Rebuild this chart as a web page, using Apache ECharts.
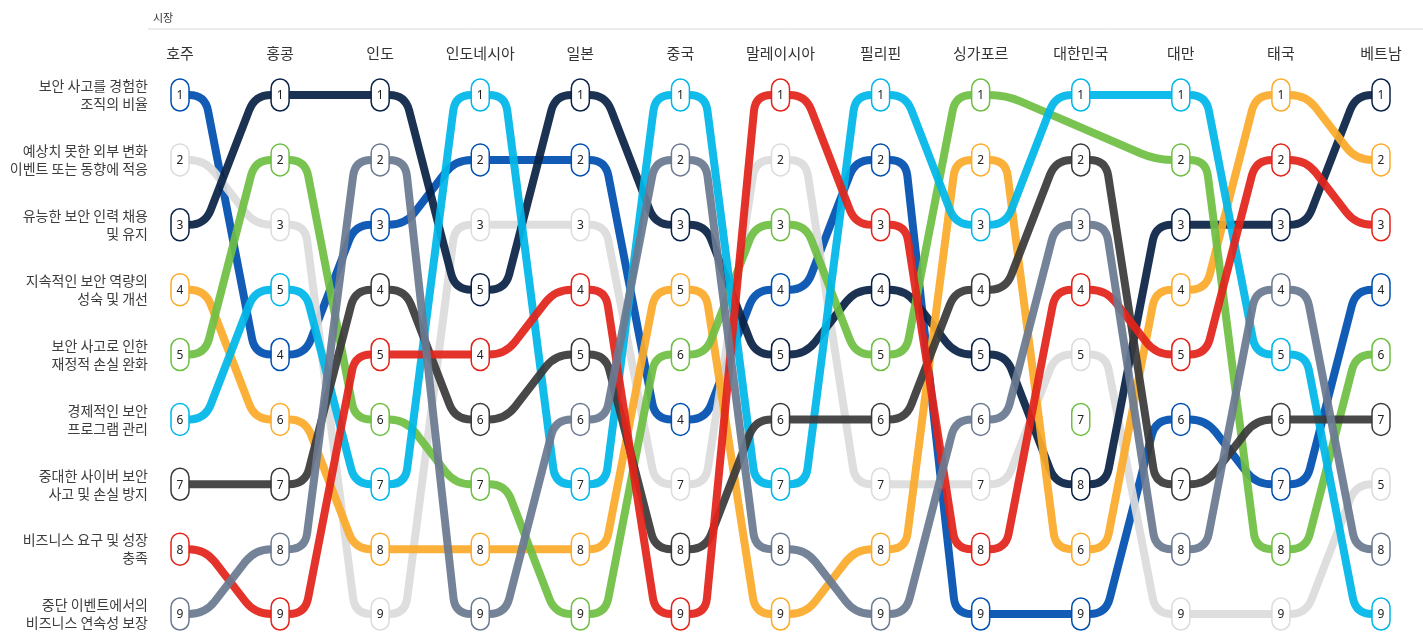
<!DOCTYPE html>
<html>
<head>
<meta charset="utf-8">
<script src="https://cdn.jsdelivr.net/npm/echarts@6/dist/echarts.min.js"></script>
<style>
  html, body { margin: 0; padding: 0; background: #fff; }
  #chart { width: 1423px; height: 636px; }
</style>
</head>
<body>
<div id="chart"></div>
<script>
// Markets along the top
const markets = ['호주', '홍콩', '인도', '인도네시아', '일본', '중국', '말레이시아', '필리핀', '싱가포르', '대한민국', '대만', '태국', '베트남'];

// Row labels (one per priority, shown at rows 1..9)
const rowLabels = [
  '보안 사고를 경험한\n조직의 비율',
  '예상치 못한 외부 변화\n이벤트 또는 동향에 적응',
  '유능한 보안 인력 채용\n및 유지',
  '지속적인 보안 역량의\n성숙 및 개선',
  '보안 사고로 인한\n재정적 손실 완화',
  '경제적인 보안\n프로그램 관리',
  '중대한 사이버 보안\n사고 및 손실 방지',
  '비즈니스 요구 및 성장\n충족',
  '중단 이벤트에서의\n비즈니스 연속성 보장'
];

// Row position of each priority in each market (1 = top)
const posIncidents   = [1, 5, 3, 2, 2, 6, 4, 2, 9, 9, 6, 7, 4];
const posAdapt       = [2, 3, 9, 3, 3, 7, 2, 7, 7, 5, 9, 9, 7];
const posTalent      = [3, 1, 1, 4, 1, 3, 5, 4, 5, 7, 3, 3, 1];
const posMaturity    = [4, 6, 8, 8, 8, 4, 9, 8, 2, 8, 4, 1, 2];
const posFinancial   = [5, 2, 6, 7, 9, 5, 3, 5, 1, 6, 2, 8, 5];
const posCostEff     = [6, 4, 7, 1, 7, 1, 7, 1, 3, 1, 1, 5, 9];
const posPrevent     = [7, 7, 4, 6, 5, 8, 6, 6, 4, 2, 7, 6, 6];
const posGrowth      = [8, 9, 5, 5, 4, 9, 1, 3, 8, 4, 5, 2, 3];
const posContinuity  = [9, 8, 2, 9, 6, 2, 8, 9, 6, 3, 8, 4, 8];

// Rank shown inside each node
const rankIncidents  = [1, 4, 3, 2, 2, 4, 4, 2, 9, 9, 6, 7, 4];
const rankAdapt      = [2, 3, 9, 3, 3, 7, 2, 7, 7, 5, 9, 9, 5];
const rankTalent     = [3, 1, 1, 5, 1, 3, 5, 4, 5, 8, 3, 3, 1];
const rankMaturity   = [4, 6, 8, 8, 8, 5, 9, 8, 2, 6, 4, 1, 2];
const rankFinancial  = [5, 2, 6, 7, 9, 6, 3, 5, 1, 7, 2, 8, 6];
const rankCostEff    = [6, 5, 7, 1, 7, 1, 7, 1, 3, 1, 1, 5, 9];
const rankPrevent    = [7, 7, 4, 6, 5, 8, 6, 6, 4, 2, 7, 6, 7];
const rankGrowth     = [8, 9, 5, 4, 4, 9, 1, 3, 8, 4, 5, 2, 3];
const rankContinuity = [9, 8, 2, 9, 6, 2, 8, 9, 6, 3, 8, 4, 8];

// Nodes that are drawn without a connecting line: [priority index, market index]
const unlinkedNodes = [[4, 9]];

const seriesColors = ['#0050b0', '#dcdcdc', '#0a2246', '#fbab2a', '#6fbe44', '#00b7e8', '#3a3a3a', '#e2231a', '#6b7a91'];

const positions = [posIncidents, posAdapt, posTalent, posMaturity, posFinancial, posCostEff, posPrevent, posGrowth, posContinuity];
const ranks = [rankIncidents, rankAdapt, rankTalent, rankMaturity, rankFinancial, rankCostEff, rankPrevent, rankGrowth, rankContinuity];

const chart = echarts.init(document.getElementById('chart'), null, { renderer: 'canvas' });

const STEP_OUT = 25;   // horizontal run leaving / entering a node
const CORNER = 16;     // corner rounding

function isUnlinked(s, m) {
  return unlinkedNodes.some(u => u[0] === s && u[1] === m);
}

// Build line segments for one priority from its position array
function segmentsFor(s) {
  const p = positions[s];
  const cols = [];
  for (let m = 0; m < markets.length; m++) if (!isUnlinked(s, m)) cols.push(m);
  const out = [];
  for (let i = 0; i < cols.length - 1; i++) {
    out.push([cols[i], p[cols[i]], cols[i + 1], p[cols[i + 1]]]);
  }
  return out;
}

function roundedStepPath(a, d) {
  if (Math.abs(a[1] - d[1]) < 0.5) {
    return 'M' + a[0] + ' ' + a[1] + 'L' + d[0] + ' ' + d[1];
  }
  const b = [a[0] + STEP_OUT, a[1]];
  const c = [d[0] - STEP_OUT, d[1]];
  const len = Math.hypot(c[0] - b[0], c[1] - b[1]);
  const ux = (c[0] - b[0]) / len, uy = (c[1] - b[1]) / len;
  const r = Math.min(CORNER, len / 2, STEP_OUT);
  const b1 = [b[0] - r, b[1]];
  const b2 = [b[0] + ux * r, b[1] + uy * r];
  const c1 = [c[0] - ux * r, c[1] - uy * r];
  const c2 = [c[0] + r, c[1]];
  return 'M' + a[0] + ' ' + a[1] +
    'L' + b1[0] + ' ' + b1[1] +
    'Q' + b[0] + ' ' + b[1] + ' ' + b2[0] + ' ' + b2[1] +
    'L' + c1[0] + ' ' + c1[1] +
    'Q' + c[0] + ' ' + c[1] + ' ' + c2[0] + ' ' + c2[1] +
    'L' + d[0] + ' ' + d[1];
}

const lineSeries = positions.map((p, s) => ({
  type: 'custom',
  name: rowLabels[s],
  coordinateSystem: 'cartesian2d',
  encode: { x: [0, 2], y: [1, 3] },
  data: segmentsFor(s),
  z: 2,
  silent: true,
  clip: false,
  renderItem: function (params, api) {
    const a = api.coord([api.value(0), api.value(1)]);
    const d = api.coord([api.value(2), api.value(3)]);
    return {
      type: 'path',
      shape: { pathData: roundedStepPath(a, d) },
      style: {
        fill: 'none',
        stroke: seriesColors[s],
        lineWidth: 8,
        opacity: 0.93,
        lineJoin: 'round'
      }
    };
  }
}));

// Nodes: [market index, row position, rank, priority index]
const nodeData = [];
positions.forEach((p, s) => {
  p.forEach((v, m) => nodeData.push([m, v, ranks[s][m], s]));
});

const nodeSeries = {
  type: 'custom',
  coordinateSystem: 'cartesian2d',
  encode: { x: 0, y: 1 },
  data: nodeData,
  z: 10,
  silent: true,
  clip: false,
  renderItem: function (params, api) {
    const c = api.coord([api.value(0), api.value(1)]);
    const s = api.value(3);
    return {
      type: 'group',
      x: c[0],
      y: c[1],
      children: [
        {
          type: 'rect',
          shape: { x: -9, y: -16, width: 18, height: 32, r: 9 },
          style: { fill: '#ffffff', stroke: seriesColors[s], lineWidth: 1.5 }
        },
        {
          type: 'text',
          style: {
            text: String(api.value(2)),
            x: 0, y: 1,
            align: 'center',
            verticalAlign: 'middle',
            fill: '#222',
            font: '12px "Noto Sans", "Noto Sans CJK KR", sans-serif'
          }
        }
      ]
    };
  }
};

chart.setOption({
  animation: false,
  backgroundColor: '#fff',
  textStyle: { fontFamily: '"Noto Sans CJK KR", "Noto Sans", sans-serif' },
  title: {
    text: '시장',
    left: 148,
    top: 7,
    textStyle: { fontSize: 11, fontWeight: 'normal', color: '#333', fontFamily: '"Noto Sans CJK KR", sans-serif' }
  },
  graphic: [{
    type: 'line',
    shape: { x1: 148, y1: 29, x2: 1423, y2: 29 },
    style: { stroke: '#d9d9d9', lineWidth: 1 },
    silent: true
  }],
  grid: { left: 180, right: 42, top: 95, bottom: 22, containLabel: false },
  xAxis: {
    type: 'category',
    data: markets,
    position: 'top',
    boundaryGap: false,
    axisLine: { show: false },
    axisTick: { show: false },
    splitLine: { show: false },
    axisLabel: {
      interval: 0,
      margin: 34,
      fontSize: 15,
      color: '#333',
      fontFamily: '"Noto Sans CJK KR", sans-serif'
    }
  },
  yAxis: {
    type: 'value',
    min: 1,
    max: 9,
    interval: 1,
    inverse: true,
    axisLine: { show: false },
    axisTick: { show: false },
    splitLine: { show: false },
    axisLabel: {
      margin: 32,
      fontSize: 14,
      lineHeight: 18,
      color: '#3d3d3d',
      align: 'right',
      fontFamily: '"Noto Sans CJK KR", sans-serif',
      formatter: function (v) { return rowLabels[v - 1] || ''; }
    }
  },
  series: lineSeries.concat([nodeSeries])
});
</script>
</body>
</html>
